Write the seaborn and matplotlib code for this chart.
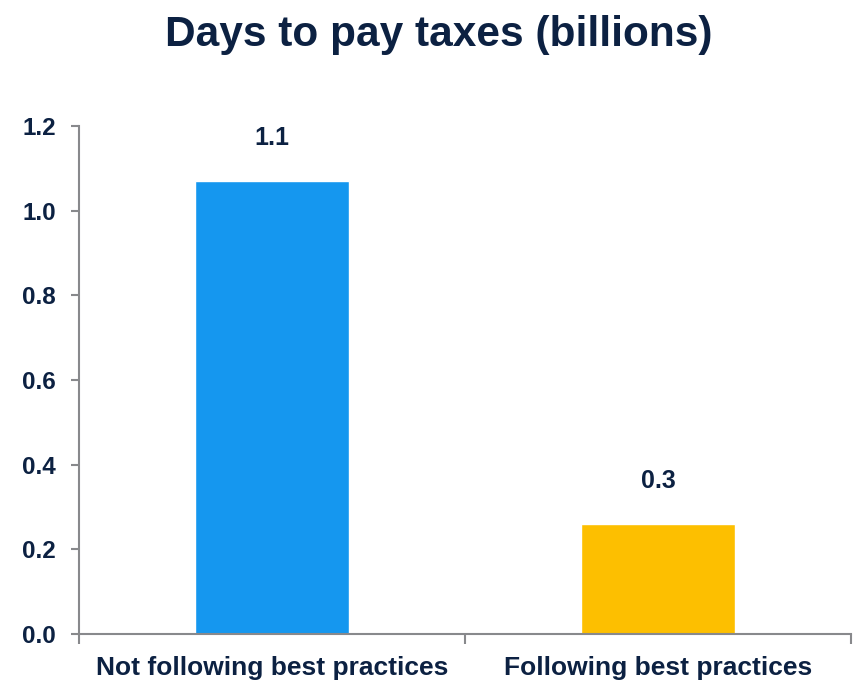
import matplotlib
matplotlib.use("Agg")
import matplotlib.pyplot as plt
import seaborn as sns
import pandas as pd
from matplotlib.ticker import FixedLocator, FormatStrFormatter

categories = ["Not following best practices", "Following best practices"]
values = [1.07, 0.26]
bar_colors = ["#1597ef", "#fdbf00"]
y_ticks = [0.0, 0.2, 0.4, 0.6, 0.8, 1.0, 1.2]
title = "Days to pay taxes (billions)"

navy = "#0c2142"
spine_gray = "#88898c"

sns.set_theme(style="white")
plt.rcParams["font.family"] = ["Liberation Sans", "DejaVu Sans"]
plt.rcParams["font.weight"] = "bold"

df = pd.DataFrame({"category": categories, "value": values})

fig = plt.figure(figsize=(8.54, 6.8), dpi=100)
ax = fig.add_axes([0.0925, 0.0676, 0.904, 0.7471])

sns.barplot(data=df, x="category", y="value", hue="category",
            palette=bar_colors, width=0.4, legend=False, ax=ax,
            saturation=1.0)

ax.set_xlim(-0.5, 1.5)
ax.set_ylim(0, 1.2)
ax.set_yticks(y_ticks)
ax.yaxis.set_major_formatter(FormatStrFormatter("%.1f"))

# category labels sit between boundary ticks
ax.xaxis.set_major_locator(FixedLocator([-0.5, 0.5, 1.5]))
ax.xaxis.set_minor_locator(FixedLocator([0, 1]))
ax.set_xticklabels([])
ax.set_xticklabels(categories, minor=True)
ax.tick_params(axis="x", which="minor", length=0, pad=16,
               labelsize=19, labelcolor=navy)
ax.tick_params(axis="x", which="major", length=7, width=1.5,
               color=spine_gray, direction="out")
ax.tick_params(axis="y", length=6, width=1.5, color=spine_gray,
               direction="out", pad=10.5, labelsize=17.5, labelcolor=navy)
ax.tick_params(left=True, bottom=True)
for lab in ax.get_xticklabels(minor=True) + ax.get_yticklabels():
    lab.set_fontweight("bold")

ax.set_xlabel("")
ax.set_ylabel("")

for side in ["top", "right"]:
    ax.spines[side].set_visible(False)
for side in ["left", "bottom"]:
    ax.spines[side].set_color(spine_gray)
    ax.spines[side].set_linewidth(1.5)

for i, v in enumerate(values):
    ax.annotate(f"{v:.1f}", xy=(i, v), xytext=(0, 22),
                textcoords="offset points", ha="center", va="bottom",
                fontsize=18, fontweight="bold", color=navy)

fig.text(0.514, 0.949, title, ha="center", va="center",
         fontsize=30.5, fontweight="bold", color=navy)

fig.savefig("out.png", dpi=100, facecolor="white")
